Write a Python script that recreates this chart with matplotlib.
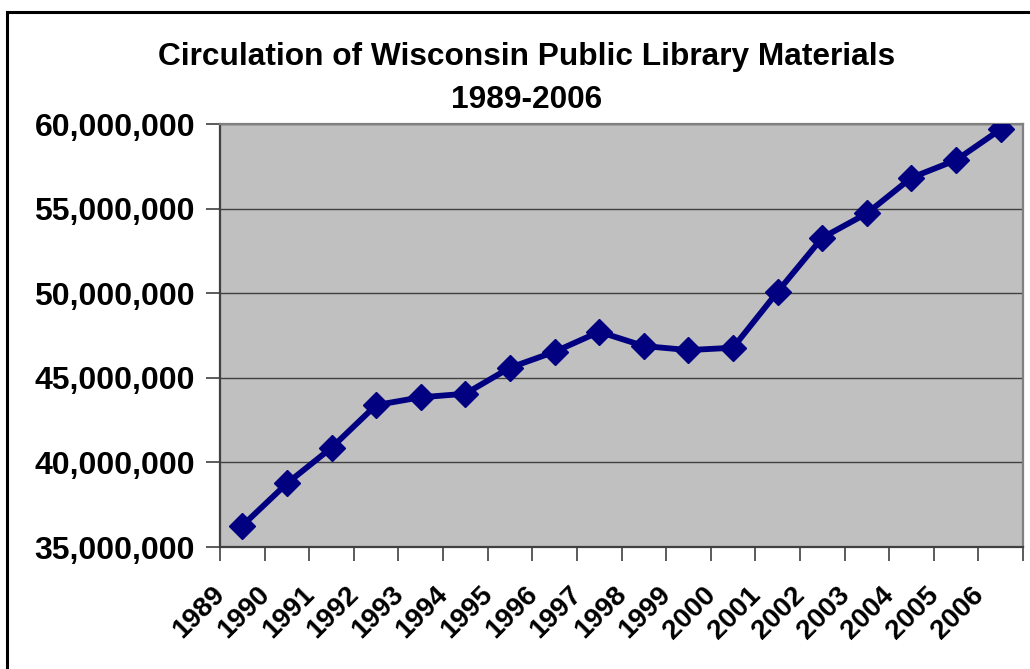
import matplotlib
matplotlib.use('Agg')
import matplotlib.pyplot as plt
import matplotlib.transforms as mtransforms
from matplotlib.patches import Rectangle
from matplotlib.ticker import FuncFormatter

years = ['1989', '1990', '1991', '1992', '1993', '1994', '1995', '1996', '1997',
         '1998', '1999', '2000', '2001', '2002', '2003', '2004', '2005', '2006']
circulation = [36.26, 38.76, 40.87, 43.39, 43.85, 44.06, 45.60, 46.54, 47.72,
               46.88, 46.64, 46.78, 50.09, 53.28, 54.72, 56.83, 57.87, 59.69]
circulation = [v * 1e6 for v in circulation]

plt.rcParams['font.family'] = ['Liberation Sans', 'DejaVu Sans']
plt.rcParams['font.weight'] = 'bold'

fig = plt.figure(figsize=(10.3, 6.69), dpi=100)
ax = fig.add_axes([0.2136, 0.1823, 0.7796, 0.6323])

# outer chart border (cut off at right and bottom)
fig.patches.append(Rectangle((7 / 1030, -0.2), 1.2, 1.2 - 12 / 669, transform=fig.transFigure,
                             fill=False, edgecolor='black', linewidth=2.2))

ax.set_facecolor('#c0c0c0')
x = [i + 0.5 for i in range(len(years))]
ax.plot(x, circulation, color='#000080', linewidth=4.2, marker='D', markersize=13,
        markeredgecolor='#000080', zorder=3)

ax.set_xlim(0, len(years))
ax.set_ylim(35e6, 60e6)
ax.set_yticks([35e6, 40e6, 45e6, 50e6, 55e6, 60e6])
ax.yaxis.set_major_formatter(FuncFormatter(lambda v, p: f'{int(v):,}'))
ax.grid(axis='y', color='#404040', linewidth=1.0)
ax.set_axisbelow(True)

ax.set_xticks(range(len(years) + 1))
ax.set_xticklabels([])
ax.set_xticks(x, minor=True)
ax.set_xticklabels(years, minor=True, rotation=45, ha='right', fontsize=20, fontweight='bold')
ax.tick_params(axis='x', which='minor', length=0, pad=25)
ax.tick_params(axis='x', which='major', length=10, width=1.2, color='#404040', direction='out')
ax.tick_params(axis='y', length=10, width=1.2, color='#404040', pad=8, labelsize=23)
for lab in ax.get_yticklabels():
    lab.set_fontweight('bold')

offset = mtransforms.ScaledTranslation(-12 / 100, 0, fig.dpi_scale_trans)
for lab in ax.xaxis.get_minorticklabels():
    lab.set_transform(lab.get_transform() + offset)

for side in ['left', 'bottom']:
    ax.spines[side].set_color('#404040')
    ax.spines[side].set_linewidth(1.6)
for side in ['top', 'right']:
    ax.spines[side].set_color('#808080')
    ax.spines[side].set_linewidth(1.6)

fig.text(0.511, 0.903, 'Circulation of Wisconsin Public Library Materials', ha='center',
         va='baseline', fontsize=22.8, fontweight='bold')
fig.text(0.511, 0.838, '1989-2006', ha='center', va='baseline', fontsize=22.8, fontweight='bold')

fig.savefig('out.png', dpi=100)
